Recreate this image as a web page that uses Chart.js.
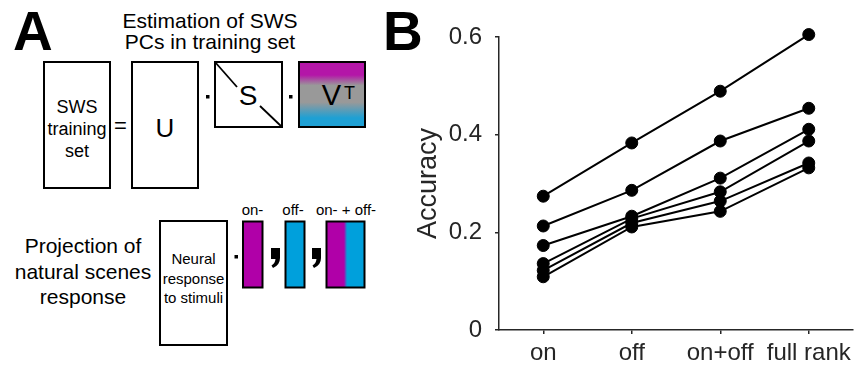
<!DOCTYPE html>
<html>
<head>
  <meta charset="UTF-8">
  <title>Accuracy by PC subspace</title>
  <script src="https://cdn.jsdelivr.net/npm/chart.js"></script>
  <style>
    html, body { margin: 0; padding: 0; background: #fff; }
    body { width: 863px; height: 368px; position: relative; overflow: hidden;
           font-family: Arial, 'Liberation Sans', sans-serif; }
    #diagram { position: absolute; left: 0; top: 0; }
    #chart { position: absolute; left: 400px; top: 0; }
  </style>
</head>
<body>
  <!-- panel A: schematic, panel B: the data -->
  <svg id="diagram" width="430" height="368" font-family="Arial, 'Liberation Sans', sans-serif">
    <defs>
      <linearGradient id="vt" x1="0" y1="0" x2="0" y2="1">
        <stop offset="0" stop-color="#b416a8"/>
        <stop offset="0.2" stop-color="#b416a8"/>
        <stop offset="0.36" stop-color="#999999"/>
        <stop offset="0.62" stop-color="#999999"/>
        <stop offset="0.86" stop-color="#1ea0d4"/>
        <stop offset="1" stop-color="#1ea0d4"/>
      </linearGradient>
      <linearGradient id="onoff" x1="0" y1="0" x2="1" y2="0">
        <stop offset="0" stop-color="#b000a8"/>
        <stop offset="0.46" stop-color="#b000a8"/>
        <stop offset="0.54" stop-color="#00a0dc"/>
        <stop offset="1" stop-color="#00a0dc"/>
      </linearGradient>
    </defs>
    <text x="13" y="50" font-size="55" font-weight="bold">A</text>
    <text x="383" y="50" font-size="55" font-weight="bold">B</text>

    <text x="210" y="27.5" font-size="21" text-anchor="middle">Estimation of SWS</text>
    <text x="210" y="49" font-size="21" text-anchor="middle">PCs in training set</text>

    <rect x="44" y="62" width="66" height="126" fill="none" stroke="#000" stroke-width="2"/>
    <text x="77" y="113" font-size="18" text-anchor="middle">SWS</text>
    <text x="77" y="135" font-size="18" text-anchor="middle">training</text>
    <text x="77" y="156.5" font-size="18" text-anchor="middle">set</text>
    <text x="120.5" y="133" font-size="22" text-anchor="middle">=</text>

    <rect x="132" y="62" width="66" height="126" fill="none" stroke="#000" stroke-width="2"/>
    <text x="165" y="137" font-size="26" text-anchor="middle">U</text>

    <rect x="206" y="95" width="3.5" height="3.5" fill="#000"/>
    <rect x="215" y="62" width="67" height="65" fill="none" stroke="#000" stroke-width="2"/>
    <line x1="215" y1="62" x2="237" y2="87" stroke="#000" stroke-width="1.8"/>
    <line x1="260" y1="106" x2="282" y2="127" stroke="#000" stroke-width="1.8"/>
    <text x="248" y="105" font-size="28" text-anchor="middle">S</text>

    <rect x="289" y="95" width="3.5" height="3.5" fill="#000"/>
    <rect x="299" y="62" width="66" height="65" fill="url(#vt)" stroke="#000" stroke-width="2"/>
    <text x="331.5" y="105" font-size="29" text-anchor="middle">V</text>
    <text x="344" y="99" font-size="18">T</text>

    <text x="83" y="253" font-size="21" text-anchor="middle">Projection of</text>
    <text x="83" y="279" font-size="21" text-anchor="middle">natural scenes</text>
    <text x="83" y="304" font-size="21" text-anchor="middle">response</text>

    <rect x="160" y="221" width="67" height="124" fill="none" stroke="#000" stroke-width="2"/>
    <text x="193.5" y="264" font-size="15" text-anchor="middle">Neural</text>
    <text x="193.5" y="283.5" font-size="15" text-anchor="middle">response</text>
    <text x="193.5" y="302.5" font-size="15" text-anchor="middle">to stimuli</text>

    <rect x="234.5" y="255" width="3.5" height="3.5" fill="#000"/>
    <text x="252.5" y="215" font-size="15" text-anchor="middle">on-</text>
    <rect x="243" y="221.5" width="19.5" height="66" fill="#b000a8" stroke="#000" stroke-width="2"/>
    <path d="M271 248 H280 V258 Q280 265 273 268 L271.5 265.5 Q275 263.5 275.5 259 H271 Z" fill="#000"/>
    <text x="293" y="215" font-size="15" text-anchor="middle">off-</text>
    <rect x="285.5" y="221.5" width="19" height="66" fill="#00a0dc" stroke="#000" stroke-width="2"/>
    <path d="M312 248 H321 V258 Q321 265 314 268 L312.5 265.5 Q316 263.5 316.5 259 H312 Z" fill="#000"/>
    <text x="346" y="215" font-size="15" text-anchor="middle">on- + off-</text>
    <rect x="326.5" y="221.5" width="38" height="66" fill="url(#onoff)" stroke="#000" stroke-width="2"/>
  </svg>

  <canvas id="chart" width="463" height="368"></canvas>

  <script>
    const conditions = ['on', 'off', 'on+off', 'full rank'];
    const yTicks = [0, 0.2, 0.4, 0.6];

    // one line per recording, accuracy
    const rec1 = [0.274, 0.383, 0.489, 0.605];
    const rec2 = [0.213, 0.286, 0.387, 0.454];
    const rec3 = [0.173, 0.233, 0.311, 0.411];
    const rec4 = [0.136, 0.228, 0.283, 0.387];
    const rec5 = [0.122, 0.219, 0.264, 0.342];
    const rec6 = [0.109, 0.211, 0.243, 0.332];

    const axisColor = '#262626';
    Chart.defaults.font.family = "Arial, 'Liberation Sans', sans-serif";

    const datasets = [rec1, rec2, rec3, rec4, rec5, rec6].map((data, i) => ({
      label: 'rec ' + (i + 1),
      data,
      borderColor: '#000',
      backgroundColor: '#000',
      borderWidth: 2,
      pointRadius: 6,
      pointBorderWidth: 1,
      pointBackgroundColor: '#000',
      pointBorderColor: '#000',
      clip: false
    }));

    new Chart(document.getElementById('chart'), {
      type: 'line',
      data: { labels: conditions, datasets },
      options: {
        responsive: false,
        animation: false,
        devicePixelRatio: 1,
        layout: { padding: { top: 37, right: 10, bottom: 0, left: 0 } },
        plugins: { legend: { display: false }, tooltip: { enabled: false } },
        scales: {
          x: {
            type: 'category',
            offset: true,
            afterFit: (scale) => { scale.height = 38; },
            grid: { drawOnChartArea: false, drawTicks: true, tickLength: 4, color: axisColor, lineWidth: 1.5 },
            border: { display: true, color: axisColor, width: 1.5 },
            ticks: { color: axisColor, font: { size: 24 }, padding: 5, autoSkip: false, maxRotation: 0 }
          },
          y: {
            min: 0,
            max: 0.6,
            afterFit: (scale) => { scale.width = 99; },
            afterBuildTicks: (scale) => { scale.ticks = yTicks.map(v => ({ value: v })); },
            grid: { drawOnChartArea: false, drawTicks: true, tickLength: 4, color: axisColor, lineWidth: 1.5 },
            border: { display: true, color: axisColor, width: 1.5 },
            ticks: {
              color: axisColor,
              font: { size: 24 },
              padding: 13,
              callback: (v) => String(Number(v.toFixed(1)))
            },
            title: {
              display: true,
              text: 'Accuracy',
              color: axisColor,
              font: { size: 27 },
              padding: { top: 12, bottom: 0 }
            }
          }
        }
      }
    });
  </script>
</body>
</html>
